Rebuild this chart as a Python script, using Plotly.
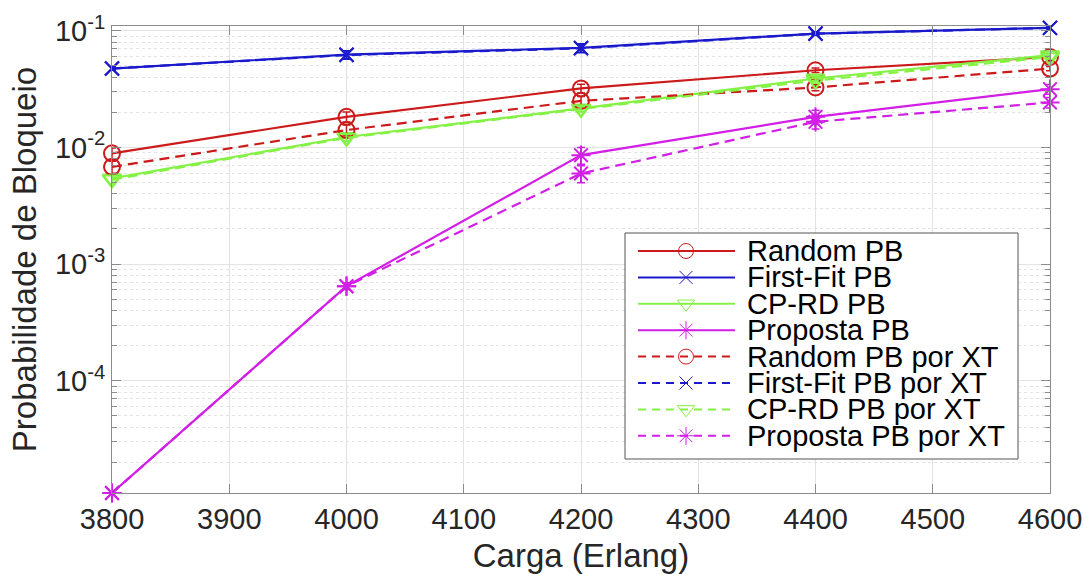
import plotly.graph_objects as go
import math

# ---------------- data ----------------
carga = [3800, 4000, 4200, 4400, 4600]

random_pb = [0.0089, 0.0183, 0.0321, 0.0459, 0.0597]
firstfit_pb = [0.0475, 0.0625, 0.0714, 0.0948, 0.106]
cprd_pb = [0.00542, 0.0123, 0.0216, 0.0390, 0.0618]
proposta_pb = [1.09e-5, 6.47e-4, 0.00859, 0.0183, 0.0316]

random_xt = [0.00682, 0.0141, 0.0251, 0.0327, 0.0475]
firstfit_xt = [0.0475, 0.0620, 0.0708, 0.0945, 0.106]
cprd_xt = [0.0053, 0.0121, 0.0213, 0.0375, 0.0595]
proposta_xt = [1.09e-5, 6.47e-4, 0.00598, 0.0166, 0.0243]

# half-widths of the confidence intervals (error bars)
random_pb_err = [0.0010, 0.0018, 0.0028, 0.0020, 0.0020]
firstfit_pb_err = [0.0015, 0.0050, 0.0060, 0.0025, 0.0025]
cprd_pb_err = [0.0004, 0.0008, 0.0012, 0.0020, 0.0020]
proposta_pb_err = [0.0, 0.00004, 0.0014, 0.0025, 0.0030]
random_xt_err = [0.0008, 0.0015, 0.0022, 0.0020, 0.0020]
firstfit_xt_err = [0.0015, 0.0050, 0.0060, 0.0025, 0.0025]
cprd_xt_err = [0.0004, 0.0008, 0.0012, 0.0020, 0.0020]
proposta_xt_err = [0.0, 0.00004, 0.0010, 0.0022, 0.0025]

names = ["Random PB", "First-Fit PB", "CP-RD PB", "Proposta PB",
         "Random PB por XT", "First-Fit PB por XT", "CP-RD PB por XT", "Proposta PB por XT"]

x_ticks = [3800, 3900, 4000, 4100, 4200, 4300, 4400, 4500, 4600]
y_ticks = [1e-4, 1e-3, 1e-2, 1e-1]
y_ticktext = ["10<sup>-4</sup>", "10<sup>-3</sup>", "10<sup>-2</sup>", "10<sup>-1</sup>"]
y_min, y_max = 1.09e-5, 0.11

# ---------------- styles ----------------
RED = "#cc1a1a"
BLUE = "#1a1acc"
GREEN = "#84f244"
MAG = "#d21ee6"
FONT = "Liberation Sans, Arial, Helvetica, sans-serif"
TXT = "#262626"
AX = "#8c8c8c"

series = [
    (random_pb, random_pb_err, RED, "circle-open", "solid", 16),
    (firstfit_pb, firstfit_pb_err, BLUE, "x-thin-open", "solid", 14),
    (cprd_pb, cprd_pb_err, GREEN, "triangle-down-open", "solid", 16),
    (proposta_pb, proposta_pb_err, MAG, "asterisk-open", "solid", 16),
    (random_xt, random_xt_err, RED, "circle-open", "10px,6px", 16),
    (firstfit_xt, firstfit_xt_err, BLUE, "x-thin-open", "10px,6px", 14),
    (cprd_xt, cprd_xt_err, GREEN, "triangle-down-open", "10px,6px", 16),
    (proposta_xt, proposta_xt_err, MAG, "asterisk-open", "10px,6px", 16),
]

fig = go.Figure()

for (vals, err, col, sym, dash, msize), nm in zip(series, names):
    fig.add_trace(go.Scatter(
        x=carga, y=vals, name=nm, mode="lines+markers",
        line=dict(color=col, width=2.2, dash=dash),
        marker=dict(symbol=sym, size=msize, color=col, line=dict(color=col, width=2)),
        error_y=dict(type="data", array=err, visible=True, color=col, thickness=1.5, width=4),
        cliponaxis=False, showlegend=False,
    ))

# ---------------- custom legend (page-pixel coordinates on an overlay axis) ----------------
W, H = 1084, 574
L, R, T, B = 112, 1050, 26, 493          # plot area in page pixels
leg_box = (625, 233, 1018, 459)
leg_y0, leg_dy = 251, 26.4

bx0, by0, bx1, by1 = leg_box
fig.add_trace(go.Scatter(
    x=[bx0, bx1, bx1, bx0, bx0], y=[by0, by0, by1, by1, by0],
    mode="lines", fill="toself", fillcolor="white",
    line=dict(color="#555555", width=1), xaxis="x2", yaxis="y2",
    showlegend=False, hoverinfo="skip", cliponaxis=False,
))

for i, ((vals, err, col, sym, dash, msize), nm) in enumerate(zip(series, names)):
    yy = leg_y0 + i * leg_dy
    fig.add_trace(go.Scatter(
        x=[638, 735], y=[yy, yy], mode="lines", xaxis="x2", yaxis="y2",
        line=dict(color=col, width=2, dash="8px,6px" if dash != "solid" else "solid"),
        showlegend=False, hoverinfo="skip", cliponaxis=False,
    ))
    fig.add_trace(go.Scatter(
        x=[686], y=[yy], mode="markers", xaxis="x2", yaxis="y2",
        marker=dict(symbol=sym, size=msize - 1, color=col, line=dict(color=col, width=1)),
        showlegend=False, hoverinfo="skip", cliponaxis=False,
    ))
    fig.add_annotation(
        x=745, y=yy, xref="x2", yref="y2", text=nm, showarrow=False,
        xanchor="left", yanchor="middle", font=dict(family=FONT, size=29, color="black"),
    )

minor_y = [m * 10.0 ** d for d in range(-5, -1 + 1) for m in range(2, 10)
           if y_min <= m * 10.0 ** d <= y_max]

fig.update_layout(
    width=W, height=H,
    margin=dict(l=L, r=W - R, t=T, b=H - B, autoexpand=False),
    paper_bgcolor="white", plot_bgcolor="white",
    font=dict(family=FONT, color=TXT),
    xaxis=dict(
        range=[3800, 4600], tickvals=x_ticks, ticktext=[str(v) for v in x_ticks],
        tickfont=dict(size=29, color=TXT),
        ticks="inside", ticklen=9, tickcolor=AX, tickwidth=1,
        showline=True, linecolor=AX, linewidth=1, mirror="ticks",
        showgrid=True, gridcolor="#e3e3e3", gridwidth=1, zeroline=False,
        title=dict(text="Carga (Erlang)", font=dict(size=33, color=TXT), standoff=13),
    ),
    yaxis=dict(
        type="log", range=[math.log10(y_min), math.log10(y_max)],
        tickvals=y_ticks, ticktext=y_ticktext,
        tickfont=dict(size=29, color=TXT),
        ticks="inside", ticklen=9, tickcolor=AX, tickwidth=1,
        showline=True, linecolor=AX, linewidth=1, mirror="ticks",
        showgrid=True, gridcolor="#e3e3e3", gridwidth=1, zeroline=False,
        minor=dict(tickvals=minor_y, ticks="inside", ticklen=5, tickcolor=AX,
                   showgrid=True, gridcolor="#e3e3e3", griddash="dot", gridwidth=1),
        title=dict(text="Probabilidade de Bloqueio", font=dict(size=33, color=TXT), standoff=8),
    ),
    xaxis2=dict(range=[L, R], overlaying="x", anchor="y2", visible=False, fixedrange=True),
    yaxis2=dict(range=[B, T], overlaying="y", anchor="x2", visible=False, fixedrange=True),
    showlegend=False,
)

fig.write_html("out.html",
               config={"displayModeBar": False, "staticPlot": True},
               post_script="document.body.style.margin='0';document.body.style.overflow='hidden';")
